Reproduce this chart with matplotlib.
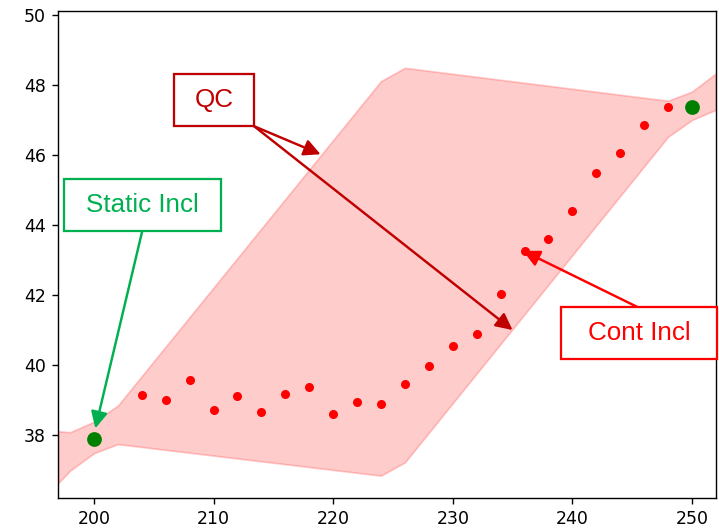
import matplotlib
matplotlib.use('Agg')
from matplotlib import pyplot as plt
from matplotlib.patches import Rectangle

# measured points
cont_x = [204, 206, 208, 210, 212, 214, 216, 218, 220, 222, 224, 226,
          228, 230, 232, 234, 236, 238, 240, 242, 244, 246, 248]
cont_y = [39.13, 38.98, 39.55, 38.71, 39.10, 38.65, 39.17, 39.36, 38.60, 38.94, 38.87, 39.44,
          39.97, 40.54, 40.88, 42.02, 43.25, 43.58, 44.38, 45.48, 46.05, 46.85, 47.35]
static_x = [200, 250]
static_y = [37.88, 47.37]

# QC envelope
band_x = [197, 198, 200, 202, 224, 226, 248, 250, 252]
band_hi = [38.10, 38.07, 38.37, 38.83, 48.10, 48.48, 47.54, 47.80, 48.32]
band_lo = [36.61, 36.97, 37.47, 37.73, 36.83, 37.21, 46.51, 46.99, 47.28]

fig = plt.figure(figsize=(719/125, 529/125), dpi=125)
ax = fig.add_axes([0.0807, 0.0592, 0.915, 0.9198])

ax.fill_between(band_x, band_lo, band_hi, color='red', alpha=0.2)
ax.plot(cont_x, cont_y, 'o', color='red', markersize=4.2, linestyle='none')
ax.plot(static_x, static_y, 'o', color='green', markersize=7.5, linestyle='none')

ax.set_xlim(197, 252)
ax.set_ylim(36.2, 50.1)
ax.set_xticks([200, 210, 220, 230, 240, 250])
ax.set_yticks([38, 40, 42, 44, 46, 48, 50])


def callout(text, x0, x1, y0, y1, color, arrows):
    # box with label, arrows from a point on the box
    ax.add_patch(Rectangle((x0, y0), x1 - x0, y1 - y0, facecolor='white',
                           edgecolor=color, linewidth=1.3, zorder=5, clip_on=False))
    ax.text((x0 + x1) / 2, (y0 + y1) / 2, text, color=color, fontsize=15,
            family='Liberation Sans', ha='center', va='center', zorder=6)
    for start, tip in arrows:
        ax.annotate('', xy=tip, xytext=start, zorder=4,
                    arrowprops=dict(arrowstyle='-|>', color=color, lw=1.4,
                                    mutation_scale=20, shrinkA=0, shrinkB=0))


callout('QC', 206.73, 213.40, 46.81, 48.30, '#c00000',
        [((213.40, 46.81), (218.95, 46.01)), ((213.40, 46.81), (235.0, 40.99))])
callout('Static Incl', 197.49, 210.61, 43.83, 45.31, '#00b050',
        [((204.05, 43.83), (200.12, 38.18))])
callout('Cont Incl', 239.06, 252.07, 40.15, 41.64, '#ff0000',
        [((245.48, 41.64), (235.88, 43.25))])

fig.savefig('out.png', dpi=125)
